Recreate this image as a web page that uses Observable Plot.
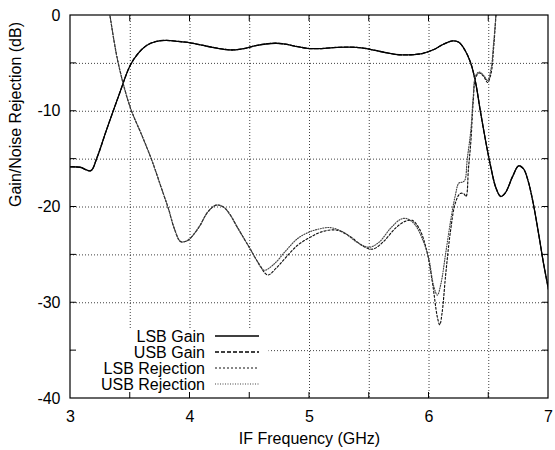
<!DOCTYPE html>
<html><head><meta charset="utf-8">
<script src="https://cdn.jsdelivr.net/npm/d3@7"></script>
<script src="https://cdn.jsdelivr.net/npm/@observablehq/plot@0.6"></script>
<style>body{margin:0;background:#fff}</style>
</head><body><div id="chart"></div>
<script>
// ---- data ----
const lsbGainF = [3.0,3.08,3.17,3.22,3.30,3.40,3.50,3.57,3.64,3.72,3.80,3.90,4.0,4.1,4.2,4.3,4.36,4.45,4.55,4.65,4.72,4.8,4.9,5.0,5.1,5.2,5.33,5.45,5.55,5.65,5.75,5.85,5.95,6.05,6.12,6.2,6.25,6.3,6.35,6.39,6.43,6.48,6.52,6.56,6.60,6.64,6.70,6.75,6.79,6.83,6.875,6.92,6.96,7.0];
const lsbGainV = [-15.8,-15.85,-16.2,-14.9,-12.0,-8.5,-5.2,-3.9,-3.1,-2.7,-2.6,-2.7,-2.85,-3.1,-3.35,-3.55,-3.6,-3.45,-3.15,-2.95,-2.9,-3.0,-3.25,-3.45,-3.45,-3.35,-3.3,-3.4,-3.65,-3.9,-4.1,-4.1,-3.95,-3.5,-3.0,-2.65,-2.8,-3.6,-5.0,-7.0,-10.0,-13.5,-16.0,-18.0,-18.9,-18.5,-16.8,-15.7,-16.0,-17.3,-19.8,-23.0,-26.0,-28.6];
const usbGainF = lsbGainF.slice();
const usbGainV = [-15.8,-15.85,-16.2,-14.9,-12.0,-8.5,-5.2,-3.9,-3.1,-2.7,-2.6,-2.7,-2.85,-3.1,-3.35,-3.55,-3.6,-3.45,-3.15,-2.95,-2.9,-3.0,-3.25,-3.45,-3.45,-3.35,-3.3,-3.4,-3.65,-3.9,-4.1,-4.1,-3.95,-3.5,-3.0,-2.65,-2.8,-3.6,-5.0,-7.0,-10.0,-13.5,-16.0,-18.0,-18.9,-18.5,-16.8,-15.7,-16.0,-17.3,-19.8,-23.0,-26.0,-28.6];
const lsbRejF = [3.28,3.33,3.40,3.50,3.60,3.68,3.76,3.82,3.87,3.92,3.96,4.0,4.08,4.15,4.22,4.28,4.33,4.40,4.5,4.58,4.65,4.72,4.8,4.9,5.0,5.1,5.22,5.33,5.45,5.53,5.62,5.72,5.80,5.86,5.92,5.98,6.03,6.07,6.09,6.11,6.14,6.18,6.22,6.26,6.29,6.31,6.33,6.35,6.37,6.39,6.42,6.46,6.49,6.52,6.54,6.56,6.58];
const lsbRejV = [4,0,-5,-9.6,-12.6,-15.1,-18.0,-20.2,-22.3,-23.6,-23.6,-23.3,-22.0,-20.5,-19.8,-20.0,-20.7,-22.2,-24.3,-26.0,-27.1,-26.4,-25.3,-24.0,-23.2,-22.6,-22.4,-23.0,-24.1,-24.4,-23.6,-22.2,-21.5,-21.4,-22.3,-24.5,-28.0,-31.5,-32.3,-31.0,-27.0,-22.5,-19.6,-18.6,-18.6,-18.9,-16.0,-13.2,-9.0,-6.5,-6.0,-6.4,-7.0,-6.0,-3.5,0,4];
const usbRejF = [3.28,3.33,3.40,3.50,3.60,3.68,3.76,3.82,3.87,3.92,3.96,4.0,4.08,4.15,4.22,4.28,4.33,4.40,4.5,4.56,4.62,4.7,4.8,4.9,5.0,5.08,5.17,5.28,5.4,5.5,5.58,5.68,5.76,5.81,5.88,5.95,6.0,6.04,6.07,6.10,6.14,6.18,6.22,6.25,6.28,6.30,6.32,6.35,6.37,6.39,6.42,6.46,6.49,6.52,6.54,6.56,6.58];
const usbRejV = [4,0,-5,-9.6,-12.6,-15.1,-18.0,-20.2,-22.3,-23.6,-23.6,-23.3,-22.0,-20.5,-19.8,-20.0,-20.7,-22.2,-24.3,-25.6,-26.6,-26.0,-24.6,-23.3,-22.6,-22.3,-22.15,-22.6,-23.7,-24.2,-23.7,-22.2,-21.3,-21.2,-21.8,-23.5,-25.5,-28.3,-29.2,-28.0,-24.8,-21.5,-18.8,-17.5,-17.4,-17.2,-15.0,-12.0,-8.5,-6.3,-5.9,-6.3,-6.8,-5.5,-3.0,0,4];

const seriesNames = ["LSB Gain","USB Gain","LSB Rejection","USB Rejection"];
const xTickLabels = [3,4,5,6,7];
const yTickLabels = [0,-10,-20,-30,-40];
const xGrid = [3.5,4,4.5,5,5.5,6,6.5];
const yGrid = [-35,-30,-25,-20,-15,-10,-5];
const xTicks = [3.5,4,4.5,5,5.5,6,6.5];
const yTicks = [-35,-30,-25,-20,-15,-10,-5];

// ---- styles ----
const dashes = {"LSB Gain": null, "USB Gain": "4,2", "LSB Rejection": "2,2", "USB Rejection": "1,1.5"};
const colors = {"LSB Gain": "#000", "USB Gain": "#000", "LSB Rejection": "#111", "USB Rejection": "#444"};
const widths = {"LSB Gain": 1.3, "USB Gain": 1.3, "LSB Rejection": 1.15, "USB Rejection": 1.15};

const mk = (name, F, V) => F.map((f, i) => ({series: name, f, v: V[i]}));
const tables = [
  mk("LSB Gain", lsbGainF, lsbGainV),
  mk("USB Gain", usbGainF, usbGainV),
  mk("LSB Rejection", lsbRejF, lsbRejV),
  mk("USB Rejection", usbRejF, usbRejV)
];

const font = "'Liberation Sans', Arial, Helvetica, sans-serif";
const FS = 16;
const W = 555, H = 450, mL = 70, mR = 7, mT = 15, mB = 52;
const fmt = d => String(d);

const plot = Plot.plot({
  width: W, height: H,
  marginLeft: mL, marginRight: mR, marginTop: mT, marginBottom: mB,
  style: {fontFamily: font, fontSize: FS + "px", color: "#000", background: "#fff"},
  x: {domain: [3, 7]},
  y: {domain: [-40, 0]},
  marks: [
    Plot.ruleX(xGrid, {stroke: "#000", strokeOpacity: 0.75, strokeDasharray: "1,2", strokeWidth: 1}),
    Plot.ruleY(yGrid, {stroke: "#000", strokeOpacity: 0.75, strokeDasharray: "1,2", strokeWidth: 1}),
    ...tables.map((t, i) => Plot.line(t, {
      x: "f", y: "v", curve: "catmull-rom", clip: true,
      stroke: colors[seriesNames[i]], strokeWidth: widths[seriesNames[i]],
      strokeDasharray: dashes[seriesNames[i]]
    })),
    Plot.axisX({ticks: xTickLabels, tickFormat: fmt, tickSize: 0, tickPadding: 12, label: null, fontSize: FS}),
    Plot.axisY({ticks: yTickLabels, tickFormat: fmt, tickSize: 0, tickPadding: 10, label: null, fontSize: FS}),
    Plot.text(["IF Frequency (GHz)"], {frameAnchor: "bottom", dy: 45, fontSize: FS, fill: "#000"}),
    Plot.text(["Gain/Noise Rejection (dB)"], {frameAnchor: "left", dx: -55, rotate: -90, fontSize: FS, fill: "#000"})
  ]
});

const svg = d3.select(plot);
const xs = plot.scale("x"), ys = plot.scale("y");
const x0 = mL, x1 = W - mR, y0 = mT, y1 = H - mB;

// legend (opaque key box)
const lg = svg.append("g");
lg.append("rect").attr("x", x0 + 0.5).attr("y", y1 - 70).attr("width", 198).attr("height", 69.5).attr("fill", "#fff");
seriesNames.forEach((name, i) => {
  const yy = y1 - 62 + i * 16;
  lg.append("text").attr("x", 205).attr("y", yy).attr("dy", "0.35em")
    .attr("text-anchor", "end").attr("font-family", font).attr("font-size", FS).attr("fill", "#000").text(name);
  lg.append("line").attr("x1", 215).attr("x2", 259).attr("y1", yy).attr("y2", yy)
    .attr("stroke", colors[name]).attr("stroke-width", widths[name])
    .attr("stroke-dasharray", dashes[name]);
});

// inward ticks on all four sides
const tg = svg.append("g").attr("stroke", "#000").attr("stroke-width", 1);
xTicks.forEach(v => {
  const px = xs.apply(v);
  tg.append("line").attr("x1", px).attr("x2", px).attr("y1", y1).attr("y2", y1 - 6);
  tg.append("line").attr("x1", px).attr("x2", px).attr("y1", y0).attr("y2", y0 + 6);
});
yTicks.forEach(v => {
  const py = ys.apply(v);
  tg.append("line").attr("x1", x0).attr("x2", x0 + 6).attr("y1", py).attr("y2", py);
  tg.append("line").attr("x1", x1).attr("x2", x1 - 6).attr("y1", py).attr("y2", py);
});
// border
svg.append("rect").attr("x", x0).attr("y", y0).attr("width", x1 - x0).attr("height", y1 - y0)
  .attr("fill", "none").attr("stroke", "#000").attr("stroke-width", 1.2);

document.getElementById("chart").appendChild(plot);
</script>
</body></html>
